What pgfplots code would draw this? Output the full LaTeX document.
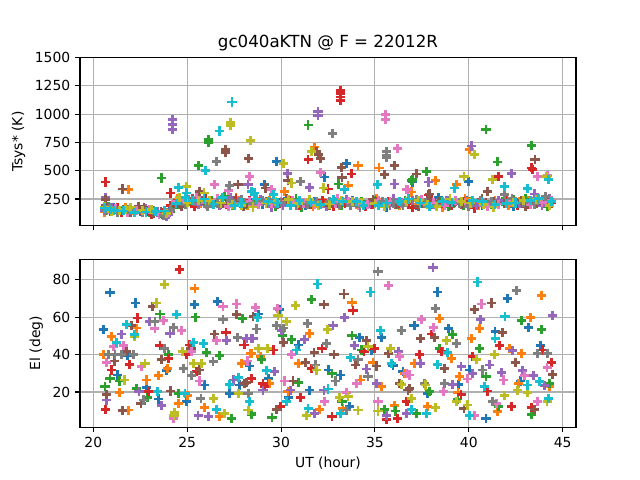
\documentclass[border=0pt]{standalone}
\usepackage{pgfplots}
\pgfplotsset{compat=1.18}
\usepackage{fontspec}
\setmainfont{DejaVu Sans}
\definecolor{C0}{HTML}{1F77B4}
\definecolor{C1}{HTML}{FF7F0E}
\definecolor{C2}{HTML}{2CA02C}
\definecolor{C3}{HTML}{D62728}
\definecolor{C4}{HTML}{9467BD}
\definecolor{C5}{HTML}{8C564B}
\definecolor{C6}{HTML}{E377C2}
\definecolor{C7}{HTML}{7F7F7F}
\definecolor{C8}{HTML}{BCBD22}
\definecolor{C9}{HTML}{17BECF}
\definecolor{gridgray}{HTML}{B0B0B0}
\pgfplotsset{
  mpl/.style={
    scale only axis, width=357.12pt, height=120.96pt,
    axis line style={line width=0.8pt, black},
    tick align=outside, xtick pos=bottom, ytick pos=left,
    major tick length=3.5pt,
    every tick/.style={black, line width=0.8pt},
    grid=major, major grid style={color=gridgray, line width=0.8pt},
    xmin=19.29, xmax=45.71, xtick={20,25,30,35,40,45},
    /pgf/number format/assume math mode=true,
    /pgf/number format/1000 sep={},
    scaled ticks=false,
    tick label style={font=\fontsize{10}{12}\selectfont},
    label style={font=\fontsize{10}{12}\selectfont},
    every axis plot/.append style={only marks, mark=+, mark size=3.3pt, line width=2pt},
  }
}
\begin{document}
\begin{tikzpicture}
\useasboundingbox (0,0) rectangle (460.8pt,345.6pt);
% ---------------- top panel ----------------
\begin{axis}[mpl, at={(57.6pt,183.168pt)}, anchor=south west,
  ymin=15, ymax=1500, ytick={250,500,750,1000,1250,1500},
  xticklabels={},
  ylabel={Tsys* (K)},
  title={gc040aKTN @ F = 22012R},
  title style={font=\fontsize{12}{14.4}\selectfont, yshift=-5pt}]
\addplot[C0] coordinates {(29.75,584)(33.48,561)(32.33,445)(29.10,377)(39.98,407)(37.0,400)
(20.62,165)(21.4,150)(22.5,140)(23.7,118)(24.6,205)(25.5,225)(26.8,200)(27.9,245)(29.0,205)(30.2,230)(31.3,195)(32.6,215)(33.8,240)(34.9,200)(36.0,225)(37.2,190)(38.4,260)(39.5,210)(40.7,195)(41.8,230)(43.0,205)(44.1,250)(20.9,140)(35.6,180)(39.9,240)
(21.1,175)(22.0,150)(23.2,125)(24.2,180)(25.1,240)(26.3,215)(28.4,220)(29.5,195)(31.8,225)(33.2,200)(35.3,215)(36.6,240)(38.0,205)(40.2,220)(42.4,185)(43.6,230)};
\addplot[C1] coordinates {(21.86,333)(31.79,709)(34.10,546)(33.57,368)(35.22,525)(40.04,688)(38.21,413)(39.33,377)(36.93,312)(30.20,318)
(20.7,150)(21.7,175)(22.8,160)(23.8,110)(24.9,230)(26.0,200)(27.1,215)(28.2,190)(29.4,240)(30.5,210)(31.7,185)(32.8,230)(34.0,205)(35.1,250)(36.3,195)(37.5,225)(38.6,180)(39.8,255)(40.9,215)(42.1,190)(43.2,240)(44.3,205)(22.1,145)(33.1,190)(41.4,235)
(20.6,135)(21.3,160)(23.4,140)(24.5,250)(25.7,215)(27.6,265)(28.8,230)(30.9,195)(32.3,215)(34.5,185)(35.8,220)(37.0,205)(39.2,215)(40.5,195)(42.7,225)(44.0,240)};
\addplot[C2] coordinates {(23.63,436)(26.12,777)(26.12,747)(25.59,549)(31.44,904)(33.07,383)(36.94,413)(40.92,865)(43.32,726)(41.51,578)(37.73,496)(37.02,422)
(20.8,180)(21.9,145)(23.0,130)(24.3,170)(25.2,210)(26.3,240)(27.4,195)(28.6,225)(29.7,185)(30.8,250)(32.0,210)(33.2,195)(34.3,230)(35.5,190)(36.6,240)(37.8,210)(38.9,185)(40.1,225)(41.2,200)(42.4,245)(43.5,215)(44.2,185)(21.2,160)(31.1,180)(39.2,215)
(20.65,150)(22.4,170)(23.6,120)(24.7,205)(25.9,230)(27.0,270)(28.1,205)(30.3,220)(31.5,240)(33.7,215)(35.0,240)(36.2,200)(38.5,225)(39.7,195)(41.8,230)(43.0,250)};
\addplot[C3] coordinates {(20.66,401)(24.13,303)(33.16,1212)(33.16,1182)(33.16,1152)(33.16,1123)(31.44,599)(33.74,472)(32.50,339)(43.41,510)(43.35,525)(41.58,451)(37.85,285)
(20.9,145)(22.0,165)(23.1,115)(24.1,195)(25.4,185)(26.5,220)(27.6,250)(28.8,200)(29.9,215)(31.0,190)(32.2,240)(33.4,210)(34.5,185)(35.7,225)(36.8,205)(38.0,240)(39.1,190)(40.3,170)(41.4,210)(42.6,195)(43.7,230)(44.4,215)(21.5,130)(34.8,200)(37.0,175)
(21.3,170)(22.5,150)(23.7,130)(24.5,235)(26.0,250)(27.1,200)(28.3,235)(30.5,240)(31.6,205)(32.8,185)(35.1,230)(36.3,215)(38.6,210)(39.7,230)(42.0,240)(43.2,200)};
\addplot[C4] coordinates {(24.20,954)(24.20,910)(24.20,865)(28.24,377)(31.97,1022)(31.97,990)(30.34,475)(31.53,354)(36.05,383)(40.16,718)(42.29,475)(37.86,401)(43.50,294)(20.66,265)
(21.0,170)(22.2,140)(23.4,135)(24.5,215)(25.6,200)(26.7,190)(27.8,225)(28.9,245)(30.1,195)(31.2,220)(32.4,185)(33.5,245)(34.7,210)(35.8,195)(37.0,235)(38.1,200)(39.3,225)(40.4,190)(41.6,240)(42.7,210)(43.9,195)(44.3,250)(23.9,100)(29.5,180)(36.4,215)
(20.6,150)(21.6,145)(22.8,165)(24.0,110)(25.1,245)(26.2,225)(27.3,260)(29.3,215)(30.6,240)(32.9,225)(34.1,200)(36.0,250)(37.6,215)(38.8,240)(41.0,205)(43.4,225)};
\addplot[C5] coordinates {(21.54,339)(20.66,244)(27.06,688)(27.06,660)(28.28,611)(27.71,377)(25.67,318)(32.0,644)(32.11,608)(31.9,670)(33.21,531)(33.25,442)(30.37,413)(29.17,348)(35.52,466)(36.05,549)(37.20,472)(43.53,599)(37.91,294)(41.01,318)
(20.65,190)(21.6,160)(22.7,175)(23.6,140)(24.7,185)(25.8,235)(26.9,210)(28.0,185)(29.2,225)(30.3,250)(31.5,205)(32.6,190)(33.8,220)(34.9,245)(36.1,200)(37.3,185)(38.4,230)(39.6,205)(40.7,250)(41.9,215)(43.0,185)(44.2,225)(22.4,185)(39.0,195)(42.8,240)
(21.0,150)(22.0,135)(23.2,120)(24.3,200)(25.3,255)(26.4,220)(27.5,240)(29.8,200)(31.0,215)(33.2,235)(34.4,190)(35.6,220)(37.8,240)(40.1,210)(41.3,225)(43.6,210)};
\addplot[C6] coordinates {(26.47,377)(28.33,451)(27.18,324)(29.49,333)(32.11,481)(35.57,998)(35.57,954)(36.19,694)(36.72,333)(43.64,451)(44.20,460)(36.67,333)
(20.75,155)(21.8,135)(23.0,160)(24.0,130)(24.8,240)(26.0,215)(27.2,185)(28.3,230)(29.5,210)(30.6,240)(31.8,200)(32.9,215)(34.1,190)(35.2,235)(36.4,210)(37.5,245)(38.7,195)(39.8,215)(41.0,185)(42.2,230)(43.3,200)(44.4,240)(22.3,150)(33.0,250)(40.8,220)
(21.2,165)(22.6,140)(23.5,115)(24.4,225)(25.5,265)(26.6,250)(28.8,200)(30.0,225)(31.2,215)(33.6,230)(34.6,205)(35.8,225)(38.1,215)(39.3,240)(41.6,205)(43.9,220)};
\addplot[C7] coordinates {(26.56,584)(27.27,371)(32.72,830)(31.05,407)(35.61,667)(35.61,614)(35.61,640)(41.90,288)
(20.85,175)(22.0,150)(23.2,145)(23.75,105)(24.9,200)(26.1,185)(27.3,235)(28.5,210)(29.6,250)(30.8,195)(31.9,225)(33.1,205)(34.2,180)(35.4,230)(36.5,190)(37.7,215)(38.9,240)(40.0,185)(41.2,225)(42.3,255)(43.5,205)(44.1,275)(21.3,135)(30.0,220)(37.2,245)
(20.7,160)(21.8,160)(22.6,130)(24.1,160)(25.4,230)(26.6,215)(27.9,245)(29.0,235)(31.4,205)(32.6,230)(33.7,195)(36.0,215)(38.3,195)(39.5,215)(40.6,240)(42.9,220)};
\addplot[C8] coordinates {(27.32,925)(27.32,900)(28.39,768)(24.96,362)(25.90,303)(31.62,667)(30.11,561)(30.55,392)(32.24,348)(40.30,644)(41.28,422)(39.74,451)(44.15,450)
(20.95,140)(22.0,175)(23.1,155)(23.9,120)(25.0,220)(26.2,240)(27.4,205)(28.5,180)(29.7,230)(30.9,210)(32.0,190)(33.2,240)(34.3,215)(35.5,185)(36.7,225)(37.8,200)(39.0,250)(40.1,215)(41.3,180)(42.4,220)(43.6,245)(44.3,195)(21.7,160)(31.5,245)(38.3,185)
(20.6,180)(21.4,145)(22.6,150)(24.6,260)(25.6,235)(26.8,215)(27.9,195)(29.2,215)(30.4,245)(32.6,205)(33.8,225)(35.0,210)(37.3,240)(39.6,225)(40.8,200)(42.9,235)};
\addplot[C9] coordinates {(27.39,1108)(26.70,851)(25.98,504)(24.52,354)(24.96,303)(28.42,318)(28.60,303)(29.58,288)(33.39,333)(35.13,377)(41.90,362)(39.24,348)(44.24,422)(43.14,342)
(21.1,150)(22.2,130)(23.3,140)(24.4,210)(25.3,240)(26.4,205)(27.5,190)(28.7,250)(29.8,215)(31.0,235)(32.1,200)(33.3,225)(34.4,195)(35.6,215)(36.8,250)(37.9,185)(39.1,220)(40.2,240)(41.4,200)(42.5,215)(43.7,255)(44.4,225)(20.6,170)(26.9,260)(38.6,230)
(20.9,160)(21.6,145)(22.8,135)(23.8,145)(24.9,260)(25.9,250)(27.9,215)(29.3,230)(30.5,195)(31.6,220)(32.8,245)(34.0,225)(35.2,195)(36.3,230)(37.4,215)(40.7,225)(42.0,210)(43.3,235)};
\end{axis}
% ---------------- bottom panel ----------------
\begin{axis}[mpl, at={(57.6pt,38.016pt)}, anchor=south west,
  ymin=1.14, ymax=91.1, ytick={20,40,60,80},
  xlabel={UT (hour)}, ylabel={El (deg)}]
\addplot[C0] coordinates {(20.89,73.4)(22.25,67.6)(20.53,53.3)(21.83,39.5)(21.30,29.1)(23.90,31.3)(22.84,22.3)(23.46,16.2)(24.96,14.8)(25.94,23.7)(25.37,66.7)(26.61,68.5)(28.33,33.9)(27.80,23.7)(27.27,19.2)(29.93,64.1)(28.81,61.7)(37.08,55.6)(35.34,49.2)(34.19,49.2)(30.91,45.2)(34.81,42.5)(35.96,34.1)(32.54,31.8)(33.18,29.1)(36.49,30.9)(29.31,27.3)(30.41,16.9)(31.53,21.0)(33.66,12.1)(38.35,73.5)(42.08,70.0)(37.11,55.6)(38.92,53.8)(43.18,54.6)(41.40,52.4)(43.81,44.9)(40.04,31.8)(42.75,25.9)(39.45,24.1)(40.92,5.8)(37.82,19.2)};
\addplot[C1] coordinates {(25.41,75.3)(22.30,54.2)(20.98,49.7)(20.53,40.2)(23.95,32.7)(23.49,28.7)(22.84,26.4)(21.38,19.8)(21.86,10.3)(24.52,13.9)(25.02,18.0)(25.92,11.5)(26.74,6.7)(27.89,35.4)(28.39,40.8)(33.78,68.0)(31.53,51.5)(28.42,40.8)(28.92,39.0)(34.90,35.9)(30.91,35.4)(34.24,26.4)(35.37,22.8)(36.58,30.0)(29.40,24.6)(30.37,20.1)(32.06,10.8)(33.30,11.2)(36.05,12.6)(43.88,71.8)(38.44,59.2)(43.28,59.9)(40.57,53.8)(40.13,48.5)(42.17,43.1)(42.79,40.8)(39.06,38.1)(37.11,35.4)(39.51,28.2)(42.64,24.6)(44.29,22.8)(39.42,19.8)(41.51,9.4)(37.82,12.1)};
\addplot[C2] coordinates {(23.55,61.7)(23.99,39.9)(20.89,27.3)(21.38,25.9)(20.62,22.8)(22.30,21.9)(22.89,16.9)(24.52,19.2)(27.36,5.8)(25.44,60.1)(27.93,59.2)(26.03,41.3)(26.74,39.5)(28.42,8.5)(31.62,69.4)(30.06,50.3)(30.55,47.9)(33.78,50.3)(34.28,42.5)(28.96,37.2)(32.71,30.0)(30.94,25.2)(28.42,8.0)(29.52,6.2)(33.25,14.8)(35.52,10.8)(36.09,9.8)(42.82,58.1)(43.88,53.3)(39.12,50.6)(40.57,43.4)(38.44,43.4)(40.92,28.2)(44.29,24.6)(39.42,16.2)(41.58,12.1)(43.32,8.0)(37.20,8.5)(37.91,20.1)};
\addplot[C3] coordinates {(24.61,85.6)(22.36,59.6)(23.55,44.9)(21.91,34.8)(20.98,31.8)(24.02,38.1)(24.96,39.9)(20.65,10.8)(22.93,20.1)(25.14,45.2)(25.50,30.9)(27.07,52.0)(28.03,45.2)(28.42,27.3)(33.83,63.5)(29.58,42.5)(28.07,45.2)(32.18,43.1)(34.42,41.6)(34.98,43.4)(31.62,32.7)(36.67,14.8)(28.42,27.0)(29.04,24.6)(29.13,22.8)(29.98,12.1)(31.05,16.9)(32.71,6.7)(36.19,5.8)(35.61,5.4)(38.03,51.0)(41.63,44.9)(43.94,42.5)(38.53,41.6)(37.38,40.2)(40.21,39.0)(44.42,35.9)(39.59,18.7)(41.01,20.5)(42.29,12.1)(43.32,11.5)(36.72,14.8)};
\addplot[C4] coordinates {(23.01,57.8)(24.08,51.5)(21.51,51.0)(20.71,15.7)(22.43,20.1)(23.64,12.6)(25.58,7.6)(26.12,6.7)(27.09,47.4)(28.42,48.8)(27.45,26.4)(33.39,59.9)(32.77,55.4)(30.02,52.8)(28.16,48.8)(28.51,48.8)(31.26,47.9)(33.92,44.9)(36.26,41.6)(34.54,32.3)(35.07,24.6)(29.67,30.9)(29.04,21.0)(30.52,21.0)(32.29,21.0)(31.79,8.5)(35.61,7.6)(38.09,86.8)(44.47,61.0)(40.62,58.7)(42.34,42.1)(37.43,35.4)(41.10,34.5)(42.87,31.3)(43.46,28.7)(39.59,33.6)(40.21,30.0)(41.76,30.6)(44.03,23.4)(39.15,24.1)(36.67,8.5)};
\addplot[C5] coordinates {(23.16,65.8)(22.04,55.6)(21.77,41.6)(21.12,36.6)(23.64,37.2)(20.71,18.7)(21.54,9.9)(22.54,13.9)(24.13,20.5)(25.20,43.4)(25.67,31.8)(27.62,61.4)(26.47,51.0)(28.14,25.2)(33.35,72.5)(32.29,66.7)(28.51,60.5)(30.11,46.7)(34.54,47.4)(31.76,41.1)(32.82,39.9)(33.96,34.5)(35.07,33.9)(35.73,40.8)(31.30,35.9)(36.31,24.6)(36.76,21.0)(28.07,24.6)(30.64,25.9)(29.75,10.8)(41.19,67.6)(40.30,64.1)(41.81,52.0)(37.43,48.8)(38.18,49.2)(42.47,35.9)(38.71,32.7)(44.47,29.5)(43.50,10.8)(39.74,11.2)(36.85,21.9)};
\addplot[C6] coordinates {(23.72,58.1)(23.28,53.8)(24.70,52.8)(21.06,44.3)(21.60,44.9)(20.71,35.9)(22.57,33.6)(24.26,5.8)(25.23,41.6)(25.67,25.9)(26.91,65.8)(27.62,67.1)(26.56,47.4)(28.21,36.6)(28.64,65.3)(29.81,64.9)(35.73,77.1)(30.55,39.9)(36.31,39.0)(36.85,29.1)(34.01,24.6)(30.20,25.9)(32.33,15.1)(33.48,19.8)(35.16,15.1)(40.69,67.1)(37.50,58.7)(38.14,54.6)(44.17,33.0)(39.91,27.0)(41.86,26.4)(42.96,28.7)(38.67,20.1)(41.46,13.9)(43.64,14.8)(40.30,7.6)(36.67,30.0)};
\addplot[C7] coordinates {(23.28,57.8)(24.26,54.6)(23.81,43.4)(20.80,39.9)(21.15,40.2)(21.51,40.2)(22.13,40.2)(24.79,32.7)(22.66,15.7)(26.38,36.3)(25.23,28.7)(25.73,16.6)(26.91,58.7)(27.68,49.2)(28.24,19.2)(35.16,84.7)(31.39,56.5)(29.75,55.6)(30.11,54.2)(28.69,53.7)(36.40,52.8)(32.41,46.1)(34.10,37.2)(31.83,34.5)(32.89,25.9)(34.63,28.2)(28.25,19.2)(33.48,10.3)(42.52,74.3)(38.21,64.9)(39.33,46.1)(43.67,40.8)(44.20,40.8)(40.75,31.8)(38.71,24.6)(41.28,14.8)(37.64,24.6)};
\addplot[C8] coordinates {(23.81,77.5)(23.37,67.6)(22.18,49.7)(21.68,26.4)(22.75,35.4)(24.73,41.6)(24.34,9.0)(24.30,7.6)(25.32,35.4)(25.76,35.4)(26.42,16.6)(27.00,8.5)(27.72,19.2)(28.24,10.3)(30.77,66.4)(29.84,61.0)(30.29,57.8)(32.47,53.3)(29.28,43.1)(28.78,43.4)(34.63,44.3)(35.84,43.4)(31.88,31.8)(36.40,24.1)(36.94,16.6)(28.28,10.3)(31.35,7.6)(33.12,16.9)(33.57,17.5)(34.10,10.3)(35.16,9.8)(38.80,47.4)(40.39,37.2)(41.37,39.9)(42.61,21.0)(43.11,19.8)(39.33,14.8)(41.90,18.3)(44.17,14.8)(39.95,13.0)(38.21,11.5)(37.68,23.7)(36.93,16.6)};
\addplot[C9] coordinates {(24.43,61.4)(21.77,56.3)(22.18,50.6)(21.24,46.7)(23.42,20.1)(24.88,19.2)(26.56,10.8)(25.32,46.7)(25.85,46.1)(27.72,27.7)(27.27,24.1)(28.33,14.8)(31.94,77.8)(34.75,73.5)(28.74,59.9)(35.30,53.1)(30.82,42.5)(33.71,38.4)(35.87,35.4)(29.22,31.3)(28.34,14.8)(30.29,14.8)(32.50,21.6)(31.44,11.2)(33.18,8.5)(40.45,78.9)(41.93,60.5)(41.40,48.8)(38.85,41.3)(38.32,34.8)(43.14,23.7)(43.76,25.5)(40.84,22.8)(44.24,16.6)(40.04,7.6)(37.73,8.5)(36.93,10.8)};
\end{axis}
\end{tikzpicture}
\end{document}
